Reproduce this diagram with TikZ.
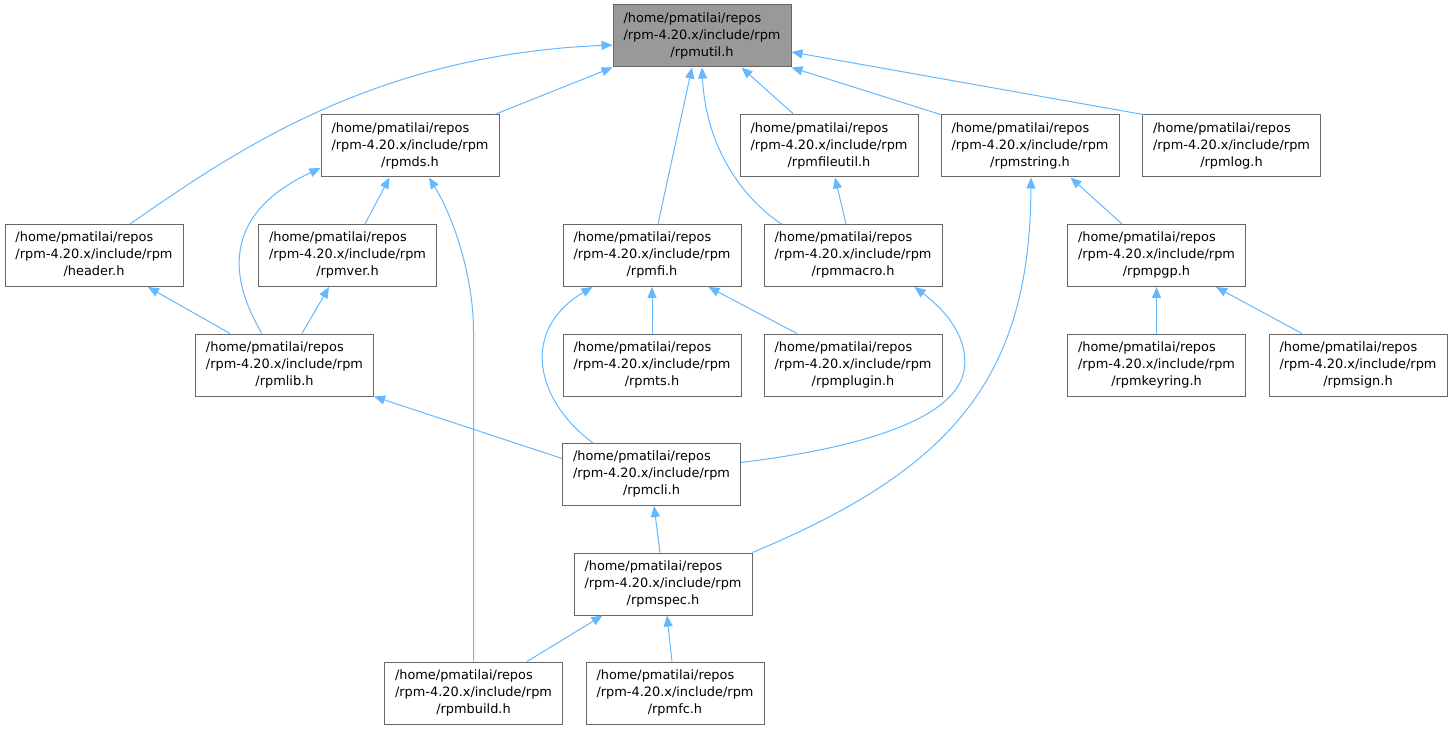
\documentclass[tikz,border=0pt]{standalone}
\usepackage{fontspec}
\setmainfont{DejaVu Sans}
\usetikzlibrary{positioning,calc,arrows.meta}
\definecolor{edgeblue}{HTML}{63B8FF}
\definecolor{boxgray}{HTML}{666666}
\definecolor{rootgray}{HTML}{999999}
\newcommand{\rpmpath}[1]{\begin{tabular}{@{}l@{}}/home/pmatilai/repos\\/rpm-4.20.x/include/rpm\\\multicolumn{1}{@{}c@{}}{/#1}\end{tabular}}
\tikzset{
    hfile/.style={draw=boxgray, line width=1pt, fill=white, minimum width=178pt, minimum height=62pt, inner sep=0pt, font=\fontsize{12.9}{17}\selectfont},
    hfileRoot/.style={hfile, fill=rootgray},
    dep/.style={draw=edgeblue, line width=1pt, -{Triangle[length=11pt,width=9pt]}},
}
\begin{document}
\begin{tikzpicture}[x=1pt, y=-1pt]
    \useasboundingbox (0,0) rectangle (1452,730);

    % Root header
    \node[hfileRoot] (rpmutil) at (702,36) {\rpmpath{rpmutil.h}};

    % Second row
    \node[hfile] (rpmds) at (410,146) {\rpmpath{rpmds.h}};
    \node[hfile] (rpmfileutil) at (829,146) {\rpmpath{rpmfileutil.h}};
    \node[hfile] (rpmstring) at (1030,146) {\rpmpath{rpmstring.h}};
    \node[hfile] (rpmlog) at (1231.5,146) {\rpmpath{rpmlog.h}};

    % Third row
    \node[hfile] (header) at (94,255.5) {\rpmpath{header.h}};
    \node[hfile] (rpmver) at (347.5,255.5) {\rpmpath{rpmver.h}};
    \node[hfile] (rpmfi) at (652,255.5) {\rpmpath{rpmfi.h}};
    \node[hfile] (rpmmacro) at (853,255.5) {\rpmpath{rpmmacro.h}};
    \node[hfile] (rpmpgp) at (1156.5,255.5) {\rpmpath{rpmpgp.h}};

    % Fourth row
    \node[hfile] (rpmlib) at (284.5,365) {\rpmpath{rpmlib.h}};
    \node[hfile] (rpmts) at (652,365) {\rpmpath{rpmts.h}};
    \node[hfile] (rpmplugin) at (853,365) {\rpmpath{rpmplugin.h}};
    \node[hfile] (rpmkeyring) at (1156.5,365) {\rpmpath{rpmkeyring.h}};
    \node[hfile] (rpmsign) at (1358,365) {\rpmpath{rpmsign.h}};

    % Lower rows
    \node[hfile] (rpmcli) at (651.5,474.5) {\rpmpath{rpmcli.h}};
    \node[hfile] (rpmspec) at (663,584) {\rpmpath{rpmspec.h}};
    \node[hfile] (rpmbuild) at (473.5,693) {\rpmpath{rpmbuild.h}};
    \node[hfile] (rpmfc) at (675,693) {\rpmpath{rpmfc.h}};

    % Includes of rpmutil.h
    \draw[dep] ($(header.north)+(36,0)$) .. controls (230,155) and (370,55) .. ($(rpmutil.west)+(0,9)$);
    \draw[dep] ($(rpmds.north east)+(-5,0)$) -- (rpmutil.south west);
    \draw[dep] ($(rpmfi.north)+(6,0)$) -- ($(rpmutil.south)+(-10,0)$);
    \draw[dep] ($(rpmmacro.north west)+(18,0)$) .. controls (745,200) and (706,150) .. (rpmutil.south);
    \draw[dep] ($(rpmfileutil.north)+(-35,0)$) -- ($(rpmutil.south east)+(-50,0)$);
    \draw[dep] (rpmstring.north west) -- (rpmutil.south east);
    \draw[dep] ($(rpmlog.north west)+(1,0)$) -- ($(rpmutil.east)+(0,16)$);

    % Left part
    \draw[dep] ($(rpmlib.north west)+(67,0)$) .. controls (230,280) and (220,215) .. ($(rpmds.west)+(0,22)$);
    \draw[dep] ($(rpmver.north)+(17.5,0)$) -- ($(rpmds.south west)+(69,0)$);
    \draw[dep] (rpmbuild.north) -- (rpmbuild.north |- rpmlib.north) .. controls (474,280) and (455,220) .. ($(rpmds.south)+(19,0)$);
    \draw[dep] ($(rpmlib.north west)+(35,0)$) -- ($(header.south)+(54,0)$);
    \draw[dep] ($(rpmlib.north)+(17.5,0)$) -- ($(rpmver.south)+(-18.5,0)$);
    \draw[dep] ($(rpmcli.west)+(0,-16)$) -- (rpmlib.south east);

    % Middle part
    \draw[dep] ($(rpmcli.north west)+(31,0)$) .. controls (535,400) and (520,330) .. ($(rpmfi.south west)+(30,0)$);
    \draw[dep] (rpmts) -- (rpmfi);
    \draw[dep] ($(rpmplugin.north)+(-56,0)$) -- ($(rpmfi.south east)+(-33,0)$);
    \draw[dep] ($(rpmmacro.north)+(-7,0)$) -- ($(rpmfileutil.south)+(6,0)$);
    \draw[dep] ($(rpmcli.east)+(0,-12)$) .. controls (860,448) and (950,420) .. (963,375)
        .. controls (972,340) and (945,310) .. ($(rpmmacro.south east)+(-28,0)$);
    \draw[dep] ($(rpmspec.north)+(-3,0)$) -- ($(rpmcli.south)+(2.5,0)$);
    \draw[dep] ($(rpmbuild.north)+(53.5,0)$) -- ($(rpmspec.south west)+(29,0)$);
    \draw[dep] ($(rpmfc.north)+(-3,0)$) -- ($(rpmspec.south)+(4,0)$);

    % Right part
    \draw[dep] (rpmspec.north east) .. controls (950,470) and (1030,380) .. ($(rpmstring.south)+(1,0)$);
    \draw[dep] ($(rpmpgp.north)+(-34.5,0)$) -- ($(rpmstring.south east)+(-49,0)$);
    \draw[dep] (rpmkeyring) -- (rpmpgp);
    \draw[dep] ($(rpmsign.north)+(-56,0)$) -- ($(rpmpgp.south east)+(-30,0)$);
\end{tikzpicture}
\end{document}
